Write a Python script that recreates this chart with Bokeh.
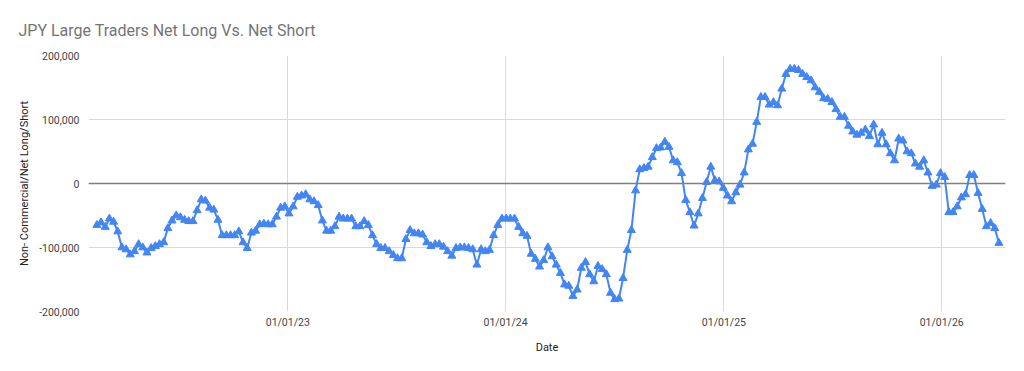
import pandas as pd
from bokeh.plotting import figure
from bokeh.models import Range1d, FixedTicker, DatetimeTickFormatter, NumeralTickFormatter, Span, ColumnDataSource
from bokeh.embed import file_html
from bokeh.resources import INLINE

title_text = "JPY Large Traders Net Long Vs. Net Short"
x_title = "Date"
y_title = "Non- Commercial/Net Long/Short"

start_date = "2022-02-15"
net_long_short = [
    -65000, -61000, -68000, -55000, -60000, -75000, -100000, -103000, -111000, -106000,
    -95000, -100000, -108000, -101000, -98000, -95000, -92000, -70000, -58000, -50000,
    -53000, -57000, -59000, -59000, -42000, -25000, -27000, -38000, -41000, -57000,
    -81000, -81000, -81000, -81000, -75000, -92000, -101000, -77000, -74000, -64000,
    -63000, -64000, -64000, -52000, -38000, -36000, -47000, -36000, -21000, -19000,
    -17000, -25000, -28000, -34000, -58000, -74000, -74000, -67000, -52000, -55000,
    -55000, -55000, -67000, -67000, -59000, -65000, -81000, -95000, -101000, -101000,
    -106000, -112000, -117000, -117000, -87000, -73000, -78000, -78000, -80000, -92000,
    -98000, -95000, -95000, -99000, -106000, -113000, -101000, -100000, -100000, -101000,
    -103000, -127000, -103000, -106000, -104000, -81000, -65000, -55000, -55000, -55000,
    -55000, -68000, -78000, -82000, -110000, -118000, -130000, -120000, -100000, -114000,
    -127000, -140000, -158000, -160000, -176000, -166000, -132000, -123000, -142000, -153000,
    -129000, -134000, -142000, -171000, -181000, -180000, -148000, -104000, -73000, -11000,
    22000, 24000, 26000, 41000, 55000, 56000, 65000, 57000, 36000, 33000,
    16000, -26000, -45000, -66000, -47000, -23000, 2000, 26000, 5000, 3000,
    -7000, -19000, -28000, -14000, -2000, 17000, 53000, 62000, 96000, 135000,
    135000, 123000, 127000, 122000, 148000, 171000, 179000, 179000, 177000, 171000,
    166000, 161000, 150000, 143000, 133000, 132000, 127000, 116000, 104000, 104000,
    90000, 81000, 76000, 79000, 84000, 74000, 92000, 61000, 79000, 61000,
    47000, 36000, 70000, 67000, 50000, 47000, 31000, 26000, 36000, 17000,
    -4000, -2000, 16000, 10000, -45000, -45000, -36000, -22000, -17000, 13000,
    13000, -15000, -40000, -67000, -62000, -70000, -93000,
]
year_ticks = ["2023-01-01", "2024-01-01", "2025-01-01", "2026-01-01"]
y_ticks = [-200000, -100000, 0, 100000, 200000]

dates = pd.date_range(start_date, periods=len(net_long_short), freq="7D")
src = ColumnDataSource(dict(date=dates, value=net_long_short))

blue = "#4285F4"
font = "Roboto"

p = figure(
    width=1024, height=371, x_axis_type="datetime",
    x_range=Range1d(pd.Timestamp("2022-02-01"), pd.Timestamp("2026-04-18")),
    y_range=Range1d(-200000, 200000),
    output_backend="svg", toolbar_location=None,
    min_border_left=88, min_border_right=19, min_border_top=55, min_border_bottom=60,
)
p.outline_line_color = None
p.background_fill_color = "white"
p.border_fill_color = "white"

p.title.text = title_text
p.title.text_font = font
p.title.text_font_size = "16px"
p.title.text_font_style = "normal"
p.title.text_color = "#757575"
p.title.align = "left"
p.title.offset = -70
p.title.standoff = 31

tick_ms = [pd.Timestamp(t).value // 10**6 for t in year_ticks]
p.xaxis.ticker = FixedTicker(ticks=tick_ms)
fmt = "%m/%d/%y"
p.xaxis.formatter = DatetimeTickFormatter(
    milliseconds=fmt, seconds=fmt, minsec=fmt, minutes=fmt, hourmin=fmt, hours=fmt,
    days=fmt, months=fmt, years=fmt)
p.yaxis.ticker = FixedTicker(ticks=y_ticks)
p.yaxis.formatter = NumeralTickFormatter(format="0,0")

for ax in (p.xaxis[0], p.yaxis[0]):
    ax.axis_line_color = None
    ax.major_tick_line_color = None
    ax.minor_tick_line_color = None
    ax.major_label_text_font = font
    ax.major_label_text_font_size = "10.5px"
    ax.major_label_text_color = "#444444"
    ax.axis_label_text_font = font
    ax.axis_label_text_font_size = "11px"
    ax.axis_label_text_font_style = "normal"
    ax.axis_label_text_color = "#222222"

p.xaxis.axis_label = x_title
p.yaxis.axis_label = y_title
p.xaxis.major_label_standoff = -2
p.xaxis.axis_label_standoff = 9
p.yaxis.major_label_standoff = 3
p.yaxis.axis_label_standoff = 5

p.xgrid.grid_line_color = "#d9d9d9"
p.ygrid.grid_line_color = "#d9d9d9"
p.xgrid.grid_line_width = 1
p.ygrid.grid_line_width = 1

p.add_layout(Span(location=0, dimension="width", line_color="#7f7f7f", line_width=1.6))

p.line("date", "value", source=src, line_color=blue, line_width=2)
p.scatter("date", "value", source=src, marker="triangle", size=8,
          fill_color=blue, line_color=blue)

open("out.html", "w").write(file_html(p, INLINE))
